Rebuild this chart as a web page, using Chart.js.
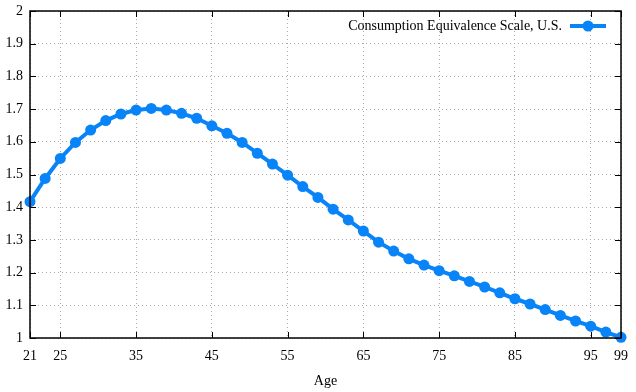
<!DOCTYPE html>
<html>
<head>
<meta charset="utf-8">
<script src="https://cdn.jsdelivr.net/npm/chart.js@4.4.1/dist/chart.umd.min.js"></script>
<style>
  html, body { margin: 0; padding: 0; background: #fff; }
  #wrap { width: 636px; height: 392px; }
</style>
</head>
<body>
<div id="wrap"><canvas id="chart"></canvas></div>
<script>
// Data
const ages = [21, 23, 25, 27, 29, 31, 33, 35, 37, 39, 41, 43, 45, 47, 49, 51, 53, 55, 57, 59,
              61, 63, 65, 67, 69, 71, 73, 75, 77, 79, 81, 83, 85, 87, 89, 91, 93, 95, 97, 99];
const scale = [1.417, 1.488, 1.549, 1.598, 1.636, 1.665, 1.685, 1.697, 1.702, 1.697,
               1.687, 1.672, 1.649, 1.626, 1.598, 1.565, 1.532, 1.498, 1.463, 1.43,
               1.394, 1.361, 1.327, 1.293, 1.266, 1.242, 1.223, 1.206, 1.19, 1.173,
               1.156, 1.138, 1.12, 1.104, 1.087, 1.069, 1.052, 1.036, 1.018, 1.002];
const xTicks = [21, 25, 35, 45, 55, 65, 75, 85, 95, 99];
const yTicks = [1, 1.1, 1.2, 1.3, 1.4, 1.5, 1.6, 1.7, 1.8, 1.9, 2];
const seriesLabel = 'Consumption Equivalence Scale, U.S.';

const blue = '#0884f8';
const font = { family: '"Liberation Serif", "DejaVu Serif", serif', size: 14 };

// box + inward ticks on all four sides, and a gnuplot-like legend
const framePlugin = {
    id: 'frame',
    afterDraw(chart) {
        const { ctx, chartArea: a, scales } = chart;
        ctx.save();
        ctx.strokeStyle = '#000';
        ctx.lineWidth = 1;
        ctx.beginPath();
        xTicks.forEach(v => {
            const px = Math.round(scales.x.getPixelForValue(v)) + 0.5;
            ctx.moveTo(px, a.bottom); ctx.lineTo(px, a.bottom - 6);
            ctx.moveTo(px, a.top); ctx.lineTo(px, a.top + 6);
        });
        yTicks.forEach(v => {
            const py = Math.round(scales.y.getPixelForValue(v)) + 0.5;
            ctx.moveTo(a.left, py); ctx.lineTo(a.left + 6, py);
            ctx.moveTo(a.right, py); ctx.lineTo(a.right - 6, py);
        });
        ctx.stroke();
        ctx.lineWidth = 1.5;
        ctx.strokeRect(a.left, a.top, a.right - a.left, a.bottom - a.top);

        // legend
        const ly = a.top + 15;
        const lx1 = a.right - 51, lx2 = a.right - 15;
        ctx.font = font.size + 'px ' + font.family;
        ctx.fillStyle = '#000';
        ctx.textAlign = 'right';
        ctx.textBaseline = 'middle';
        ctx.fillText(seriesLabel, lx1 - 8, ly);
        ctx.strokeStyle = blue;
        ctx.lineWidth = 4;
        ctx.beginPath();
        ctx.moveTo(lx1, ly); ctx.lineTo(lx2, ly);
        ctx.stroke();
        ctx.fillStyle = blue;
        ctx.beginPath();
        ctx.arc((lx1 + lx2) / 2, ly, 5.5, 0, Math.PI * 2);
        ctx.fill();
        ctx.restore();
    }
};

new Chart(document.getElementById('chart'), {
    type: 'line',
    data: {
        datasets: [{
            label: seriesLabel,
            data: ages.map((a, i) => ({ x: a, y: scale[i] })),
            borderColor: blue,
            backgroundColor: blue,
            borderWidth: 4,
            pointRadius: 5.5,
            pointHoverRadius: 5.5,
            pointBorderWidth: 0,
            tension: 0,
            clip: false
        }]
    },
    options: {
        responsive: true,
        maintainAspectRatio: false,
        animation: false,
        layout: { padding: { left: 0, top: 11, right: 15, bottom: 2 } },
        plugins: { legend: { display: false }, tooltip: { enabled: false } },
        scales: {
            x: {
                type: 'linear',
                min: 21,
                max: 99,
                afterBuildTicks: s => { s.ticks = xTicks.map(v => ({ value: v })); },
                afterFit: s => { s.height = 52; },
                ticks: { color: '#000', font, padding: 0, maxRotation: 0, autoSkip: false },
                grid: { color: '#aaa', lineWidth: 1, drawTicks: true, tickLength: 10, tickColor: 'rgba(0,0,0,0)' },
                border: { display: false, dash: [1, 3] },
                title: { display: true, text: 'Age', color: '#000', font, padding: { top: 4, bottom: 0 } }
            },
            y: {
                min: 1,
                max: 2,
                afterBuildTicks: s => { s.ticks = yTicks.map(v => ({ value: v })); },
                afterFit: s => { s.width = 30; },
                ticks: { color: '#000', font, padding: 0, callback: v => String(Math.round(v * 10) / 10) },
                grid: { color: '#aaa', lineWidth: 1, drawTicks: true, tickLength: 7, tickColor: 'rgba(0,0,0,0)' },
                border: { display: false, dash: [1, 3] }
            }
        }
    },
    plugins: [framePlugin]
});
</script>
</body>
</html>
